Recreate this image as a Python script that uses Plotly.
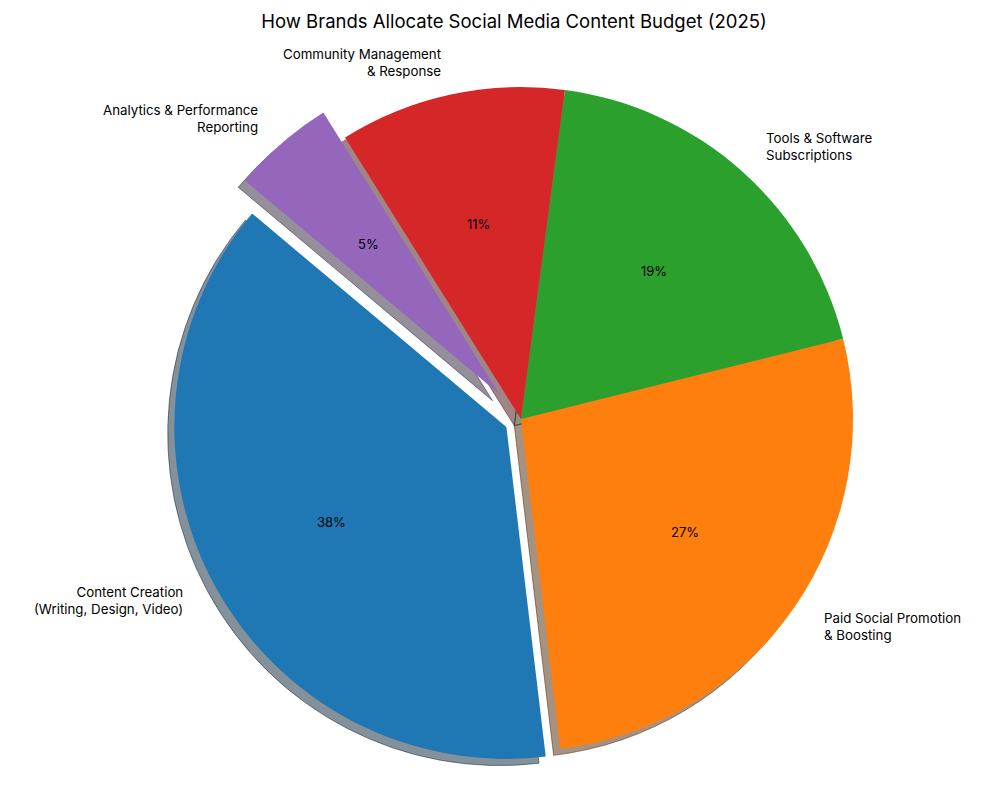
import math
import plotly.graph_objects as go

# ---- data ----
labels = [
    "Content Creation<br>(Writing, Design, Video)",
    "Paid Social Promotion<br>& Boosting",
    "Tools & Software<br>Subscriptions",
    "Community Management<br>& Response",
    "Analytics & Performance<br>Reporting",
]
values = [38, 27, 19, 11, 5]
colors = ["#1f77b4", "#ff7f0e", "#2ca02c", "#d62728", "#9467bd"]
pulls = [0.05, 0, 0, 0, 0.1]
title = "How Brands Allocate Social Media Content Budget (2025)"

# ---- layout geometry (pixels, in figure coordinates) ----
W, H = 1000, 800
CX, CY = 513, 411          # pie centre, from top-left of the figure
R = 332                    # radius in px
START = 140                # start angle (deg, counter-clockwise from 3 o'clock)
SH = 6.7                   # shadow offset px
FONT = "Inter"

maxpull = max(pulls)
box = 2 * R * (1 + maxpull)
total = sum(values)


def dom(cx, cy):
    return dict(x=[(cx - box / 2) / W, (cx + box / 2) / W],
                y=[(H - cy - box / 2) / H, (H - cy + box / 2) / H])


def shadow(c):
    c = c.lstrip("#")
    r, g, b = (int(c[i:i + 2], 16) for i in (0, 2, 4))
    return f"rgba({0.3*r:.0f},{0.3*g:.0f},{0.3*b:.0f},0.5)"


# plotly places the end of the first counter-clockwise slice at the rotation angle
first_end = START + 360 * values[0] / total
rot = 90 - first_end
while rot < -360:
    rot += 360

common = dict(values=values, sort=False, direction="counterclockwise",
              rotation=rot, pull=pulls, textinfo="none", hoverinfo="skip",
              showlegend=False)

shadow_cols = [shadow(c) for c in colors]
fig = go.Figure()
fig.add_trace(go.Pie(labels=[f"s{i}" for i in range(len(values))],
                     marker=dict(colors=shadow_cols, line=dict(width=1, color=shadow_cols)),
                     domain=dom(CX - SH, CY + SH), **common))
fig.add_trace(go.Pie(labels=labels,
                     marker=dict(colors=colors, line=dict(width=0)),
                     domain=dom(CX, CY), **common))

cum = 0
annotations = []
for lab, v, p in zip(labels, values, pulls):
    t1 = START + 360 * cum / total
    cum += v
    t2 = START + 360 * cum / total
    tm = math.radians((t1 + t2) / 2)
    ox = p * R * math.cos(tm)
    oy = p * R * math.sin(tm)
    # percent
    px = CX + ox + 0.6 * R * math.cos(tm)
    py = CY - oy - 0.6 * R * math.sin(tm)
    annotations.append(dict(x=px / W, y=(H - py) / H, xref="paper", yref="paper",
                            text=f"{100 * v / total:.0f}%", showarrow=False,
                            xanchor="center", yanchor="middle",
                            font=dict(family=FONT, size=13, color="black")))
    # label
    lx = ox + 1.1 * R * math.cos(tm)
    ly = oy + 1.1 * R * math.sin(tm)
    side = "left" if lx > 0 else "right"
    annotations.append(dict(x=(CX + lx) / W, y=(H - CY + ly) / H, xref="paper", yref="paper",
                            text=lab, showarrow=False, xanchor=side, yanchor="middle",
                            align=side,
                            font=dict(family=FONT, size=13.3, color="black")))

fig.update_layout(
    width=W, height=H,
    margin=dict(l=0, r=0, t=0, b=0),
    paper_bgcolor="white", plot_bgcolor="white",
    title=dict(text=title, x=0.506, xanchor="center", y=1 - 14 / H, yanchor="middle",
               font=dict(family=FONT, size=18.5, color="black")),
    annotations=annotations,
)

fig.write_html("out.html")
